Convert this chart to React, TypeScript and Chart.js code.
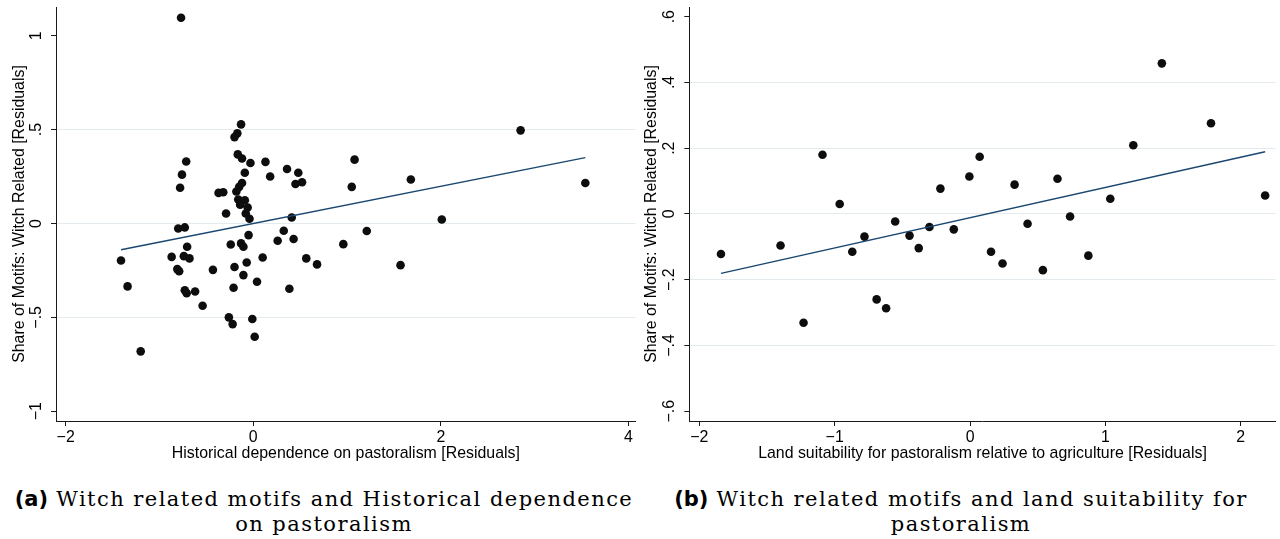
import React, { useEffect, useRef } from "react";
import { Chart, registerables } from "chart.js";

Chart.register(...registerables);

// ---------- Panel (a): Historical dependence on pastoralism ----------
const A_X = [
  -0.77, -0.13, -0.17, -0.2, -0.165, -0.12, -0.03, 0.13, 0.36, 0.48,
  0.45, 0.52, 0.18, -0.09, -0.715, -0.76, -0.78, -0.12, -0.15, -0.18,
  -0.37, -0.32, -0.16, -0.09, -0.14, -0.06, -0.29, -0.08, -0.04, 0.41,
  -0.8, -0.73, 0.325, -0.05, 0.26, 0.43, -0.24, -0.13, -0.105, -0.705,
  -0.87, -0.74, -0.68, 0.1, -1.41, -0.07, 0.565, 0.68, -0.81, -0.79,
  -0.43, -0.2, -0.105, 0.04, -1.34, -0.21, 0.385, -0.73, -0.71, -0.62,
  -0.54, -0.26, -0.22, -0.01, 0.015, -1.2, 2.85, 1.08, 1.05, 1.68,
  3.54, 2.01, 1.21, 0.96, 1.57,
];
const A_Y = [
  1.096, 0.528, 0.48, 0.46, 0.368, 0.346, 0.322, 0.328, 0.29, 0.27,
  0.21, 0.22, 0.25, 0.27, 0.33, 0.26, 0.19, 0.216, 0.195, 0.17,
  0.163, 0.166, 0.128, 0.124, 0.1, 0.085, 0.053, 0.053, 0.025, 0.032,
  -0.027, -0.021, -0.039, -0.062, -0.092, -0.083, -0.112, -0.106, -0.124, -0.124,
  -0.178, -0.174, -0.186, -0.181, -0.197, -0.208, -0.186, -0.218, -0.243, -0.254,
  -0.247, -0.232, -0.275, -0.31, -0.335, -0.342, -0.348, -0.356, -0.371, -0.362,
  -0.438, -0.5, -0.536, -0.509, -0.603, -0.681, 0.496, 0.34, 0.195, 0.234,
  0.216, 0.021, -0.04, -0.11, -0.222,
];
const A_FIT_X = [-1.41, 3.54];
const A_FIT_Y = [-0.14, 0.351];
const A_X_TICKS = [-2, 0, 2, 4];
const A_X_LABELS = ["\u22122", "0", "2", "4"];
const A_Y_TICKS = [-1, -0.5, 0, 0.5, 1];
const A_Y_LABELS = ["\u22121", "\u2212.5", "0", ".5", "1"];
const A_X_TITLE = "Historical dependence on pastoralism [Residuals]";

// ---------- Panel (b): Land suitability for pastoralism ----------
const B_X = [
  -1.84, -1.4, -1.23, -1.09, -0.963, -0.87, -0.78, -0.69, -0.62, -0.553,
  -0.447, -0.379, -0.3, -0.219, -0.12, -0.005, 0.071, 0.155, 0.24, 0.329,
  0.425, 0.538, 0.646, 0.739, 0.874, 1.036, 1.206, 1.417, 1.78, 2.18,
];
const B_Y = [
  -0.122, -0.096, -0.331, 0.18, 0.03, -0.115, -0.069, -0.26, -0.287, -0.023,
  -0.066, -0.104, -0.04, 0.077, -0.047, 0.114, 0.174, -0.115, -0.151, 0.089,
  -0.03, -0.171, 0.107, -0.008, -0.127, 0.046, 0.209, 0.458, 0.276, 0.056,
];
const B_FIT_X = [-1.84, 2.18];
const B_FIT_Y = [-0.181, 0.189];
const B_X_TICKS = [-2, -1, 0, 1, 2];
const B_X_LABELS = ["\u22122", "\u22121", "0", "1", "2"];
const B_Y_TICKS = [-0.6, -0.4, -0.2, 0, 0.2, 0.4, 0.6];
const B_Y_LABELS = ["\u2212.6", "\u2212.4", "\u2212.2", "0", ".2", ".4", ".6"];
const B_X_TITLE = "Land suitability for pastoralism relative to agriculture [Residuals]";

const Y_TITLE = "Share of Motifs: Witch Related [Residuals]";

const SANS = "'Liberation Sans', Arial, Helvetica, sans-serif";
const GRID = "#e3ebee";
const AXIS = "#1a1a1a";
const NAVY = "#1a476f";
const DOT = "#0d0d0d";

const CANVAS_W = 640;
const CANVAS_H = 464;

type Spec = {
  xs: number[];
  ys: number[];
  fitX: number[];
  fitY: number[];
  xTicks: number[];
  xLabels: string[];
  yTicks: number[];
  yLabels: string[];
  xMin: number;
  xMax: number;
  yMin: number;
  yMax: number;
  xTitle: string;
  padLeft: number;
  padRight: number;
  yScaleW: number;
  yTitlePad: number;
  fontSize: number;
};

function makeConfig(s: Spec): any {
  const font = { family: SANS, size: s.fontSize };
  return {
    type: "scatter",
    data: {
      datasets: [
        {
          label: "fit",
          type: "line",
          data: s.fitX.map((x, i) => ({ x, y: s.fitY[i] })),
          borderColor: NAVY,
          borderWidth: 1.4,
          pointRadius: 0,
          fill: false,
          order: 0,
        },
        {
          label: "points",
          data: s.xs.map((x, i) => ({ x, y: s.ys[i] })),
          pointRadius: 4.3,
          pointBackgroundColor: DOT,
          pointBorderWidth: 0,
          showLine: false,
          order: 1,
        },
      ],
    },
    options: {
      animation: false,
      responsive: false,
      maintainAspectRatio: false,
      events: [],
      layout: { padding: { top: 7, left: s.padLeft, right: s.padRight, bottom: 0 } },
      plugins: { legend: { display: false }, tooltip: { enabled: false } },
      scales: {
        x: {
          type: "linear",
          min: s.xMin,
          max: s.xMax,
          afterBuildTicks: (sc: any) => {
            sc.ticks = s.xTicks.map((v) => ({ value: v }));
          },
          afterFit: (sc: any) => {
            sc.height = 43;
            sc.paddingLeft = 0;
            sc.paddingRight = 0;
          },
          ticks: {
            autoSkip: false,
            maxRotation: 0,
            minRotation: 0,
            padding: 2.5,
            color: "#000",
            font,
            callback: (_v: any, i: number) => s.xLabels[i],
          },
          grid: {
            display: true,
            drawOnChartArea: false,
            drawTicks: true,
            tickLength: 5,
            tickColor: AXIS,
            tickWidth: 1,
          },
          border: { display: true, color: AXIS, width: 1 },
          title: {
            display: true,
            text: s.xTitle,
            color: "#000",
            font,
            padding: { top: 0, bottom: 0.5 },
          },
        },
        y: {
          type: "linear",
          min: s.yMin,
          max: s.yMax,
          afterBuildTicks: (sc: any) => {
            sc.ticks = s.yTicks.map((v) => ({ value: v }));
          },
          afterFit: (sc: any) => {
            sc.width = s.yScaleW;
            sc.paddingTop = 0;
            sc.paddingBottom = 0;
            sc.paddingLeft = 0;
            sc.paddingRight = 0;
          },
          ticks: {
            autoSkip: false,
            minRotation: 90,
            maxRotation: 90,
            crossAlign: "center",
            padding: 3,
            color: "#000",
            font,
            callback: (_v: any, i: number) => s.yLabels[i],
          },
          grid: {
            display: true,
            drawOnChartArea: true,
            drawTicks: true,
            tickLength: 5,
            lineWidth: 1,
            color: (ctx: any) =>
              ctx.index === 0 || ctx.index === s.yTicks.length - 1 ? "rgba(0,0,0,0)" : GRID,
            tickColor: AXIS,
            tickWidth: 1,
          },
          border: { display: true, color: AXIS, width: 1 },
          title: {
            display: true,
            text: Y_TITLE,
            color: "#000",
            font,
            padding: { top: s.yTitlePad, bottom: 0 },
          },
        },
      },
    },
  };
}

const SPEC_A: Spec = {
  xs: A_X,
  ys: A_Y,
  fitX: A_FIT_X,
  fitY: A_FIT_Y,
  xTicks: A_X_TICKS,
  xLabels: A_X_LABELS,
  yTicks: A_Y_TICKS,
  yLabels: A_Y_LABELS,
  xMin: -2.103,
  xMax: 4.077,
  yMin: -1.052,
  yMax: 1.153,
  xTitle: A_X_TITLE,
  padLeft: 6.3,
  padRight: 0,
  yScaleW: 49.7,
  yTitlePad: 3.5,
  fontSize: 15.9,
};

const SPEC_B: Spec = {
  xs: B_X,
  ys: B_Y,
  fitX: B_FIT_X,
  fitY: B_FIT_Y,
  xTicks: B_X_TICKS,
  xLabels: B_X_LABELS,
  yTicks: B_Y_TICKS,
  yLabels: B_Y_LABELS,
  xMin: -2.074,
  xMax: 2.258,
  yMin: -0.63,
  yMax: 0.6295,
  xTitle: B_X_TITLE,
  padLeft: 1,
  padRight: 3,
  yScaleW: 48.3,
  yTitlePad: 1.5,
  fontSize: 15.9,
};

function Panel({ spec, left }: { spec: Spec; left: number }) {
  const ref = useRef<HTMLCanvasElement | null>(null);
  useEffect(() => {
    if (!ref.current) return;
    const chart = new Chart(ref.current, makeConfig(spec));
    return () => chart.destroy();
  }, [spec]);
  return (
    <canvas
      ref={ref}
      width={CANVAS_W}
      height={CANVAS_H}
      style={{
        position: "absolute",
        left,
        top: 0,
        width: CANVAS_W,
        height: CANVAS_H,
        display: "block",
      }}
    />
  );
}

const CAP_SERIF = "'DejaVu Serif', 'Liberation Serif', serif";
const CAP_BOLD = "'DejaVu Sans', 'Liberation Sans', sans-serif";

function Caption({ tag, line1, line2, left, width }: { tag: string; line1: string; line2: string; left: number; width: number }) {
  return (
    <div
      style={{
        position: "absolute",
        left,
        top: 487,
        width,
        textAlign: "center",
        fontFamily: CAP_SERIF,
        fontSize: 21,
        lineHeight: "25px",
        letterSpacing: "1.45px",
        color: "#000",
        whiteSpace: "nowrap",
      }}
    >
      <span style={{ fontFamily: CAP_BOLD, fontWeight: 700, letterSpacing: "0px" }}>{tag}</span> {line1}
      <br />
      {line2}
    </div>
  );
}

export default function App() {
  return (
    <div
      style={{
        position: "absolute",
        left: 0,
        top: 0,
        width: 1280,
        height: 539,
        background: "#fff",
        overflow: "hidden",
      }}
    >
      <Panel spec={SPEC_A} left={0} />
      <Panel spec={SPEC_B} left={640} />
      <Caption tag="(a)" line1="Witch related motifs and Historical dependence" line2="on pastoralism" left={0} width={648} />
      <Caption tag="(b)" line1="Witch related motifs and land suitability for" line2="pastoralism" left={641} width={640} />
    </div>
  );
}
